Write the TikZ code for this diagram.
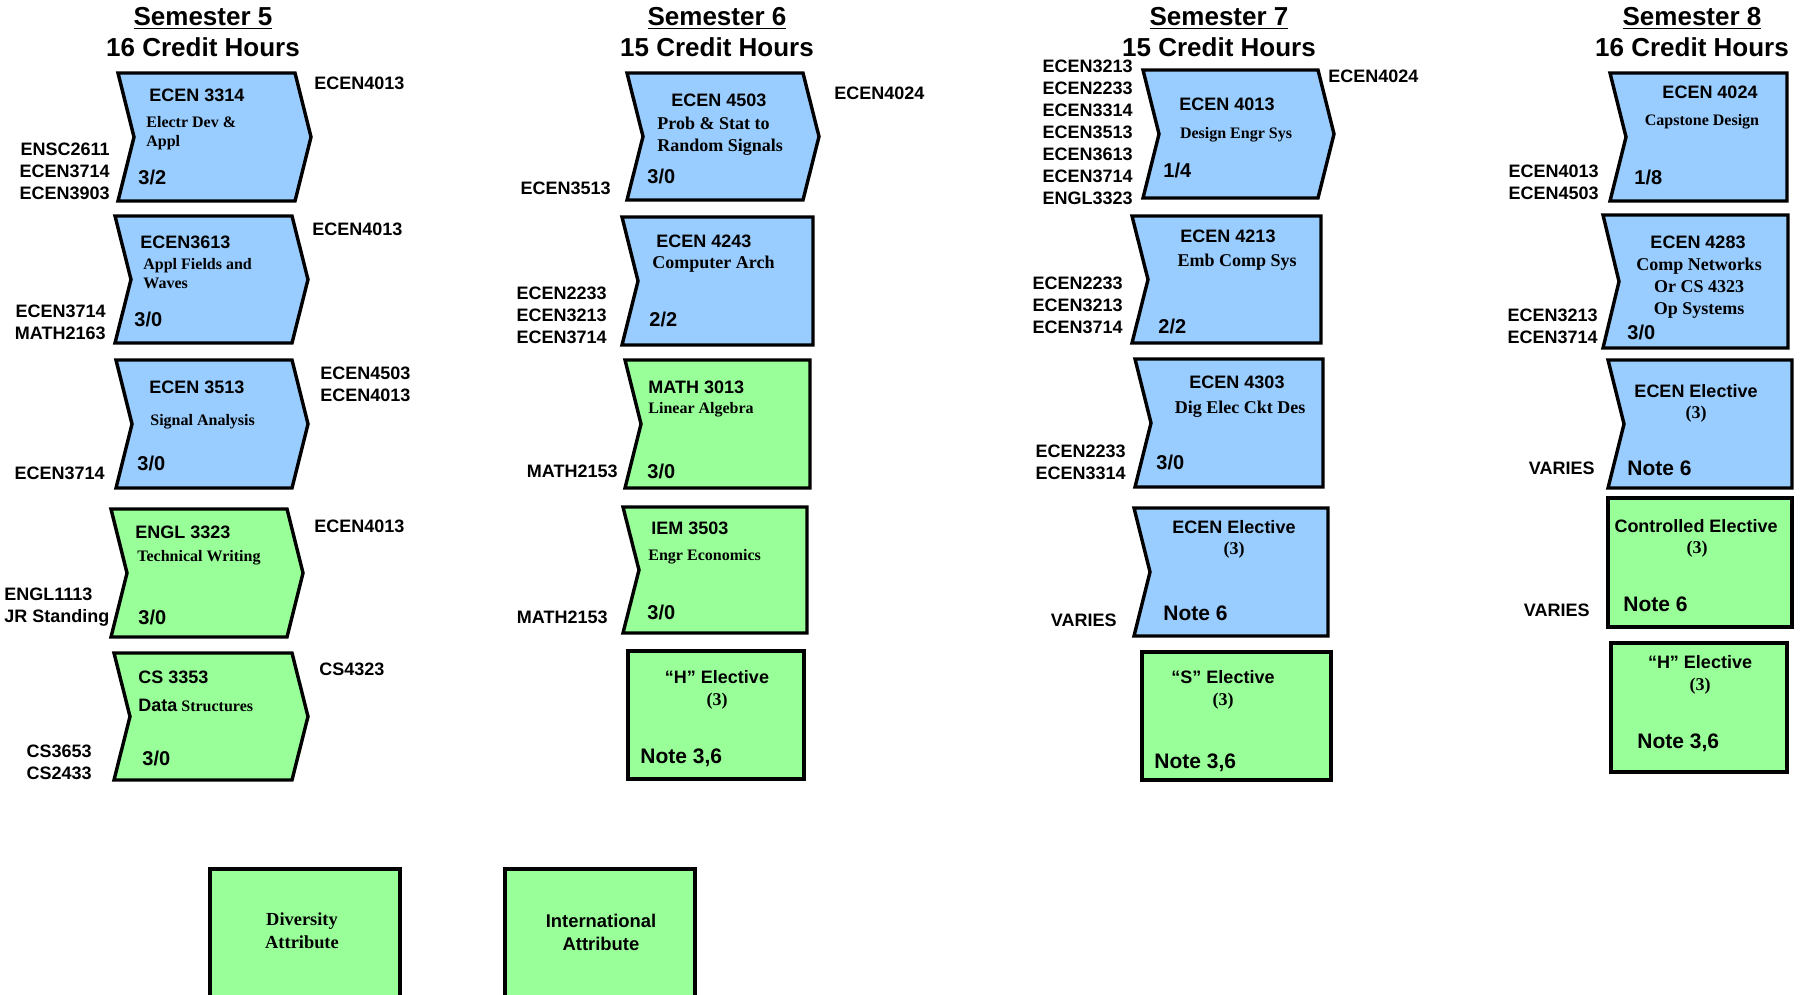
\documentclass[tikz,border=0pt]{standalone}
\usepackage{fontspec}
\setmainfont{Liberation Serif}
\setsansfont{Liberation Sans}
\usetikzlibrary{positioning}
\definecolor{ecen blue}{RGB}{153,204,255}
\definecolor{gen green}{RGB}{153,255,153}
\newcommand{\chevron}[7]{%
  \draw[#1] (#2,#3) -- (#4,#3) -- ({#4+#7},{(#3+#5)/2}) -- (#4,#5)
    -- (#2,#5) -- ({#2+#6},{(#3+#5)/2}) -- cycle;}
\tikzset{
  outline/.style={draw=black, line width=1.7pt},
  ecen/.style={outline, fill=ecen blue},
  gened/.style={outline, fill=gen green},
  txt/.style={inner sep=0pt},
  cname/.style={txt, font=\sffamily\bfseries\fontsize{9}{11}\selectfont},
  ctitle/.style={txt, align=left, font=\rmfamily\bfseries\fontsize{8}{9.5}\selectfont},
  bigtitle/.style={txt, align=center, font=\rmfamily\bfseries\fontsize{9}{11}\selectfont},
  credit/.style={txt, anchor=west, font=\sffamily\bfseries\fontsize{10}{12}\selectfont},
  cnote/.style={txt, anchor=west, font=\sffamily\bfseries\fontsize{10.5}{12}\selectfont},
  hours/.style={txt, font=\rmfamily\bfseries\fontsize{9}{11}\selectfont},
  prereq/.style={cname, align=right, anchor=east},
  postreq/.style={cname, align=left, anchor=west},
  semhead/.style={txt, align=center, font=\sffamily\bfseries\fontsize{13}{15.5}\selectfont}
}

\begin{document}
\begin{tikzpicture}[x=0.5pt, y=-0.5pt]
    \useasboundingbox (0,0) rectangle (1803,995);
    \clip (0,0) rectangle (1803,995);

    % semester headings
    \node[semhead] (sem5) at (203,32) {\underline{Semester 5}\\16 Credit Hours};
    \node[semhead] (sem6) at (717,32) {\underline{Semester 6}\\15 Credit Hours};
    \node[semhead] (sem7) at (1219,32) {\underline{Semester 7}\\15 Credit Hours};
    \node[semhead] (sem8) at (1692,32) {\underline{Semester 8}\\16 Credit Hours};

    % semester 5
    \chevron{ecen}{118}{73}{295}{201}{16}{16}
    \node[cname, anchor=west] (e3314) at (149,95) {ECEN 3314};
    \node[ctitle, anchor=west] (e3314t) at (146,133) {Electr Dev \&\\Appl};
    \node[credit] (e3314c) at (138,177) {3/2};
    \node[prereq] (e3314pre) at (110,171) {ENSC2611\\ECEN3714\\ECEN3903};
    \node[postreq] (e3314post) at (314,83) {ECEN4013};

    \chevron{ecen}{115}{216}{292}{343}{16}{16}
    \node[cname, anchor=west] (e3613) at (140,242) {ECEN3613};
    \node[ctitle, anchor=west] (e3613t) at (143,274) {Appl Fields and\\Waves};
    \node[credit] (e3613c) at (134,319) {3/0};
    \node[prereq] (e3613pre) at (106,322) {ECEN3714\\MATH2163};
    \node[postreq] (e3613post) at (312,229) {ECEN4013};

    \chevron{ecen}{116}{360}{292}{488}{16}{16}
    \node[cname, anchor=west] (e3513) at (149,387) {ECEN 3513};
    \node[ctitle, anchor=west] (e3513t) at (150,422) {Signal Analysis};
    \node[credit] (e3513c) at (137,463) {3/0};
    \node[prereq] (e3513pre) at (105,473) {ECEN3714};
    \node[postreq] (e3513post) at (320,384) {ECEN4503\\ECEN4013};

    \chevron{gened}{111}{509}{287}{637}{16}{16}
    \node[cname, anchor=west] (en3323) at (135,532) {ENGL 3323};
    \node[ctitle, anchor=west] (en3323t) at (137,558) {Technical Writing};
    \node[credit] (en3323c) at (138,617) {3/0};
    \node[postreq] (en3323pre) at (4,607) {ENGL1113\\JR Standing};
    \node[postreq] (en3323post) at (314,526) {ECEN4013};

    \chevron{gened}{114}{653}{292}{780}{16}{16}
    \node[cname, anchor=west] (cs3353) at (138,677) {CS 3353};
    \node[ctitle, anchor=west] (cs3353t) at (138,705) {{\sffamily\fontsize{9}{11}\selectfont Data} Structures};
    \node[credit] (cs3353c) at (142,758) {3/0};
    \node[prereq] (cs3353pre) at (92,762) {CS3653\\CS2433};
    \node[postreq] (cs3353post) at (319,669) {CS4323};

    % semester 6
    \chevron{ecen}{627}{73}{803}{200}{16}{16}
    \node[cname] (e4503) at (719,100) {ECEN 4503};
    \node[bigtitle, align=left, anchor=west] (e4503t) at (657,136) {Prob \& Stat to\\Random Signals};
    \node[credit] (e4503c) at (647,176) {3/0};
    \node[prereq] (e4503pre) at (611,188) {ECEN3513};
    \node[postreq] (e4503post) at (834,93) {ECEN4024};

    \chevron{ecen}{622}{217}{813}{345}{16}{0}
    \node[cname, anchor=west] (e4243) at (656,241) {ECEN 4243};
    \node[bigtitle, anchor=west] (e4243t) at (652,264) {Computer Arch};
    \node[credit] (e4243c) at (649,319) {2/2};
    \node[prereq] (e4243pre) at (607,315) {ECEN2233\\ECEN3213\\ECEN3714};

    \chevron{gened}{625}{360}{810}{488}{16}{0}
    \node[cname, anchor=west] (m3013) at (648,387) {MATH 3013};
    \node[ctitle, anchor=west] (m3013t) at (648,410) {Linear Algebra};
    \node[credit] (m3013c) at (647,471) {3/0};
    \node[prereq] (m3013pre) at (618,471) {MATH2153};

    \chevron{gened}{623}{507}{807}{633}{16}{0}
    \node[cname, anchor=west] (iem3503) at (651,528) {IEM 3503};
    \node[ctitle, anchor=west] (iem3503t) at (648,557) {Engr Economics};
    \node[credit] (iem3503c) at (647,612) {3/0};
    \node[prereq] (iem3503pre) at (608,617) {MATH2153};

    \chevron{gened}{628}{651}{804}{779}{0}{0}
    \node[cname] (helec6) at (717,677) {“H” Elective};
    \node[hours] (helec6h) at (717,701) {(3)};
    \node[cnote] (helec6n) at (640,758) {Note 3,6};

    % semester 7
    \chevron{ecen}{1143}{70}{1318}{198}{16}{16}
    \node[cname] (e4013) at (1227,104) {ECEN 4013};
    \node[ctitle] (e4013t) at (1236,135) {Design Engr Sys};
    \node[credit] (e4013c) at (1163,170) {1/4};
    \node[prereq] (e4013pre) at (1133,132) {ECEN3213\\ECEN2233\\ECEN3314\\ECEN3513\\ECEN3613\\ECEN3714\\ENGL3323};
    \node[postreq] (e4013post) at (1328,76) {ECEN4024};

    \chevron{ecen}{1132}{216}{1321}{343}{16}{0}
    \node[cname] (e4213) at (1228,236) {ECEN 4213};
    \node[bigtitle] (e4213t) at (1237,262) {Emb Comp Sys};
    \node[credit] (e4213c) at (1158,326) {2/2};
    \node[prereq] (e4213pre) at (1123,305) {ECEN2233\\ECEN3213\\ECEN3714};

    \chevron{ecen}{1135}{359}{1323}{487}{16}{0}
    \node[cname] (e4303) at (1237,382) {ECEN 4303};
    \node[bigtitle] (e4303t) at (1240,409) {Dig Elec Ckt Des};
    \node[credit] (e4303c) at (1156,462) {3/0};
    \node[prereq] (e4303pre) at (1126,462) {ECEN2233\\ECEN3314};

    \chevron{ecen}{1134}{508}{1328}{636}{16}{0}
    \node[cname] (eelec7) at (1234,527) {ECEN Elective};
    \node[hours] (eelec7h) at (1234,550) {(3)};
    \node[cnote] (eelec7n) at (1163,613) {Note 6};
    \node[prereq] (eelec7pre) at (1117,620) {VARIES};

    \chevron{gened}{1142}{652}{1331}{780}{0}{0}
    \node[cname] (selec) at (1223,677) {“S” Elective};
    \node[hours] (selech) at (1223,701) {(3)};
    \node[cnote] (selecn) at (1154,763) {Note 3,6};

    % semester 8
    \chevron{ecen}{1610}{73}{1787}{201}{16}{0}
    \node[cname] (e4024) at (1710,92) {ECEN 4024};
    \node[ctitle] (e4024t) at (1702,122) {Capstone Design};
    \node[credit] (e4024c) at (1634,177) {1/8};
    \node[prereq] (e4024pre) at (1599,182) {ECEN4013\\ECEN4503};

    \chevron{ecen}{1603}{215}{1788}{348}{16}{0}
    \node[cname] (e4283) at (1698,242) {ECEN 4283};
    \node[bigtitle] (e4283t) at (1699,288) {Comp Networks\\Or CS 4323\\Op Systems};
    \node[credit] (e4283c) at (1627,332) {3/0};
    \node[prereq] (e4283pre) at (1598,326) {ECEN3213\\ECEN3714};

    \chevron{ecen}{1608}{360}{1792}{488}{16}{0}
    \node[cname] (eelec8) at (1696,391) {ECEN Elective};
    \node[hours] (eelec8h) at (1696,414) {(3)};
    \node[cnote] (eelec8n) at (1627,468) {Note 6};
    \node[prereq] (eelec8pre) at (1595,468) {VARIES};

    \chevron{gened}{1608}{498}{1792}{627}{0}{0}
    \node[cname] (ctrl) at (1696,526) {Controlled Elective};
    \node[hours] (ctrlh) at (1697,549) {(3)};
    \node[cnote] (ctrln) at (1623,604) {Note 6};
    \node[prereq] (ctrlpre) at (1590,610) {VARIES};

    \chevron{gened}{1611}{643}{1787}{772}{0}{0}
    \node[cname] (helec8) at (1700,662) {“H” Elective};
    \node[hours] (helec8h) at (1700,686) {(3)};
    \node[cnote] (helec8n) at (1637,743) {Note 3,6};

    % attributes
    \chevron{gened}{210}{869}{400}{1010}{0}{0}
    \node[bigtitle, font=\rmfamily\bfseries\fontsize{9.2}{11.5}\selectfont] (divers) at (302,931) {Diversity\\Attribute};
    \chevron{gened}{505}{869}{695}{1010}{0}{0}
    \node[cname, align=center, font=\sffamily\bfseries\fontsize{9.2}{11.5}\selectfont] (intl) at (601,932) {International\\Attribute};
\end{tikzpicture}
\end{document}
